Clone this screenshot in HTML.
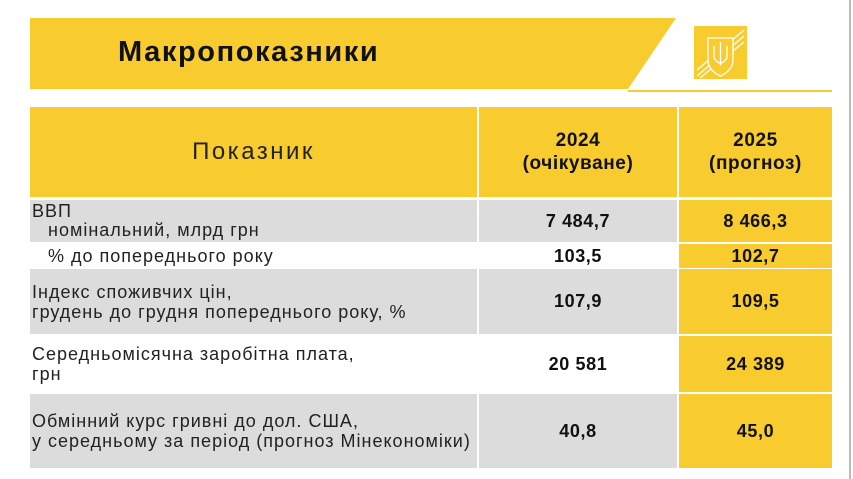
<!DOCTYPE html>
<html><head><meta charset="utf-8"><style>
body{margin:0;width:853px;height:479px;background:#fff;position:relative;overflow:hidden;font-family:"Liberation Sans","DejaVu Sans",sans-serif;}
.abs{position:absolute;}
.c{position:absolute;display:flex;align-items:center;box-sizing:border-box;white-space:nowrap;}
.y{background:#F8CB2E;}
.g{background:#DCDCDC;}
.num{justify-content:center;font-weight:bold;font-size:18px;letter-spacing:0.6px;color:#111;}
.lab{padding-left:2px;font-size:18px;letter-spacing:1px;color:#222;line-height:20px;}
</style></head><body>
<svg class="abs" style="left:0;top:0" width="853" height="479">
<polygon points="30,18 676,18 628,89 30,89" fill="#F8CB2E"/>
<rect x="628" y="90" width="204" height="2" fill="#F8CB2E"/>
<rect x="694" y="26" width="53" height="53" fill="#F8CB2E"/>
<g stroke="#fff" stroke-width="1.3" fill="none">
<line x1="697" y1="76" x2="744" y2="36"/><line x1="697" y1="70" x2="744" y2="30"/><line x1="700" y1="78" x2="744" y2="42"/>
<path d="M708 38 h25 v22 q0 10 -12.5 16 q-12.5 -6 -12.5 -16 z" fill="#F8CB2E"/>
<path d="M720.5 42 v24 M714 46 v12 q3 5 6.5 5 q3.5 0 6.5 -5 v-12"/>
</g>
<rect x="849" y="0" width="2" height="479" fill="#bbb"/>
</svg>
<div class="abs" style="left:118px;top:36px;font-size:29px;letter-spacing:1.6px;font-weight:bold;color:#111;white-space:nowrap;">Макропоказники</div>

<div class="c y" style="left:30px;top:107px;width:447px;height:90px;justify-content:center;font-size:24px;letter-spacing:2.5px;color:#222;">Показник</div>
<div class="c y num" style="left:479px;top:107px;width:198px;height:90px;text-align:center;line-height:23px;font-size:19px;">2024<br>(очікуване)</div>
<div class="c y num" style="left:679px;top:107px;width:153px;height:90px;text-align:center;line-height:23px;font-size:19px;">2025<br>(прогноз)</div>

<div class="c g lab" style="left:30px;top:200px;width:447px;height:42px;flex-direction:column;align-items:flex-start;justify-content:center;line-height:19px;"><div>ВВП</div><div style="padding-left:16px">номінальний, млрд грн</div></div>
<div class="c g num" style="left:479px;top:200px;width:198px;height:42px;">7 484,7</div>
<div class="c y num" style="left:679px;top:200px;width:153px;height:42px;">8 466,3</div>

<div class="c lab" style="left:30px;top:244px;width:447px;height:24px;padding-left:18px;">% до попереднього року</div>
<div class="c num" style="left:479px;top:244px;width:198px;height:24px;">103,5</div>
<div class="c y num" style="left:679px;top:244px;width:153px;height:24px;">102,7</div>

<div class="c g lab" style="left:30px;top:269px;width:447px;height:65px;">Індекс споживчих цін,<br>грудень до грудня попереднього року, %</div>
<div class="c g num" style="left:479px;top:269px;width:198px;height:65px;">107,9</div>
<div class="c y num" style="left:679px;top:269px;width:153px;height:65px;">109,5</div>

<div class="c lab" style="left:30px;top:336px;width:447px;height:56px;">Середньомісячна заробітна плата,<br>грн</div>
<div class="c num" style="left:479px;top:336px;width:198px;height:56px;">20 581</div>
<div class="c y num" style="left:679px;top:336px;width:153px;height:56px;">24 389</div>

<div class="c g lab" style="left:30px;top:394px;width:447px;height:74px;">Обмінний курс гривні до дол. США,<br>у середньому за період (прогноз Мінекономіки)</div>
<div class="c g num" style="left:479px;top:394px;width:198px;height:74px;">40,8</div>
<div class="c y num" style="left:679px;top:394px;width:153px;height:74px;">45,0</div>
</body></html>
